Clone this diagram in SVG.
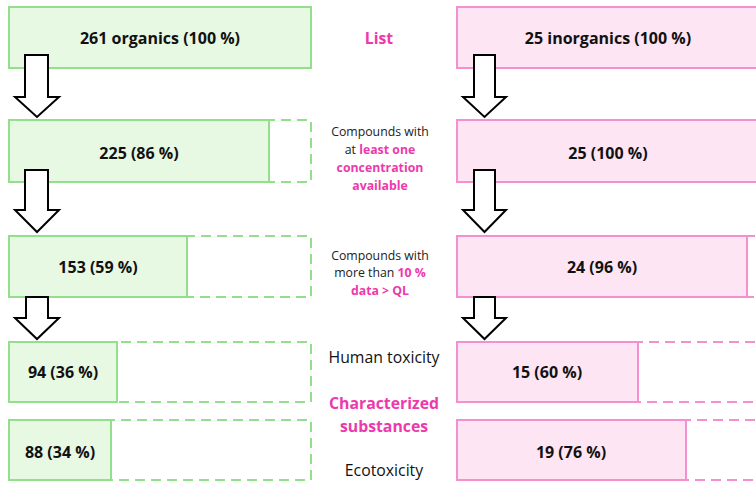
<svg xmlns="http://www.w3.org/2000/svg" width="756" height="481" viewBox="0 0 756 481">
<style>
.g{fill:#e7f8e3;stroke:#92e08c;stroke-width:2}
.gd{fill:none;stroke:#92e08c;stroke-width:2;stroke-dasharray:10 6}
.p{fill:#fde5f3;stroke:#f490cf;stroke-width:2}
.pd{fill:none;stroke:#f490cf;stroke-width:2;stroke-dasharray:10 6}
.arr{fill:#fff;stroke:#000;stroke-width:2;stroke-linejoin:miter}
.b{font-family:"Open Sans",Lato,sans-serif;font-weight:bold;font-size:16px;fill:#111;text-anchor:middle}
.m{font-family:"Open Sans",Lato,sans-serif;font-size:12.3px;fill:#222;text-anchor:middle}
.mb{font-weight:bold;fill:#ec3aac}
.h{font-family:"Open Sans",Lato,sans-serif;font-size:15.8px;fill:#111;text-anchor:middle}
.pk{font-family:"Open Sans",Lato,sans-serif;font-weight:bold;font-size:15.8px;fill:#ec3aac;text-anchor:middle}
</style>
<g id="org-list"><rect class="g" x="9" y="7" width="302" height="61"/><text class="b" x="160" y="44">261 organics (100 %)</text></g>
<g id="org-conc"><rect class="gd" x="9" y="120" width="302" height="62"/><rect class="g" x="9" y="120" width="260" height="62"/><text class="b" x="139" y="159">225 (86 %)</text></g>
<g id="org-ql"><rect class="gd" x="9" y="236" width="302" height="61"/><rect class="g" x="9" y="236" width="178" height="61"/><text class="b" x="98" y="273">153 (59 %)</text></g>
<g id="org-human"><rect class="gd" x="9" y="342" width="302" height="60"/><rect class="g" x="9" y="342" width="108" height="60"/><text class="b" x="63" y="378">94 (36 %)</text></g>
<g id="org-eco"><rect class="gd" x="9" y="420" width="302" height="60"/><rect class="g" x="9" y="420" width="102" height="60"/><text class="b" x="60" y="458">88 (34 %)</text></g>

<g id="inorg-list"><rect class="p" x="457" y="7" width="302" height="61"/><text class="b" x="608" y="44">25 inorganics (100 %)</text></g>
<g id="inorg-conc"><rect class="p" x="457" y="120" width="302" height="62"/><text class="b" x="608" y="159">25 (100 %)</text></g>
<g id="inorg-ql"><rect class="pd" x="457" y="236" width="302" height="61"/><rect class="p" x="457" y="236" width="290" height="61"/><text class="b" x="602" y="273">24 (96 %)</text></g>
<g id="inorg-human"><rect class="pd" x="457" y="342" width="302" height="60"/><rect class="p" x="457" y="342" width="181" height="60"/><text class="b" x="547" y="378">15 (60 %)</text></g>
<g id="inorg-eco"><rect class="pd" x="457" y="420" width="302" height="60"/><rect class="p" x="457" y="420" width="229" height="60"/><text class="b" x="571" y="458">19 (76 %)</text></g>

<g id="labels">
<text class="pk" x="379" y="44">List</text>
<text class="m" x="380" y="136">Compounds with</text>
<text class="m" x="380" y="154">at <tspan class="mb">least one</tspan></text>
<text class="m" x="380" y="172"><tspan class="mb">concentration</tspan></text>
<text class="m" x="380" y="190"><tspan class="mb">available</tspan></text>
<text class="m" x="380" y="260">Compounds with</text>
<text class="m" x="380" y="277">more than <tspan class="mb">10 %</tspan></text>
<text class="m" x="380" y="295"><tspan class="mb">data &gt; QL</tspan></text>
<text class="h" x="384" y="363">Human toxicity</text>
<text class="pk" x="384" y="409">Characterized</text>
<text class="pk" x="384" y="432">substances</text>
<text class="h" x="384" y="476">Ecotoxicity</text>
</g>

<g id="connectors">
<path class="arr" d="M25,55 H48 V97 H59 L37,117 L15,97 H25 Z"/>
<path class="arr" d="M25,170 H48 V210 H59 L37,232 L15,210 H25 Z"/>
<path class="arr" d="M26,297 H48 V318 H59 L37,339 L15,318 H26 Z"/>
<path class="arr" d="M474,55 H495 V97 H506 L484.5,117 L463,97 H474 Z"/>
<path class="arr" d="M474,170 H495 V210 H506 L484.5,232 L463,210 H474 Z"/>
<path class="arr" d="M474,297 H495 V318 H506 L484.5,339 L463,318 H474 Z"/>
</g>
</svg>
